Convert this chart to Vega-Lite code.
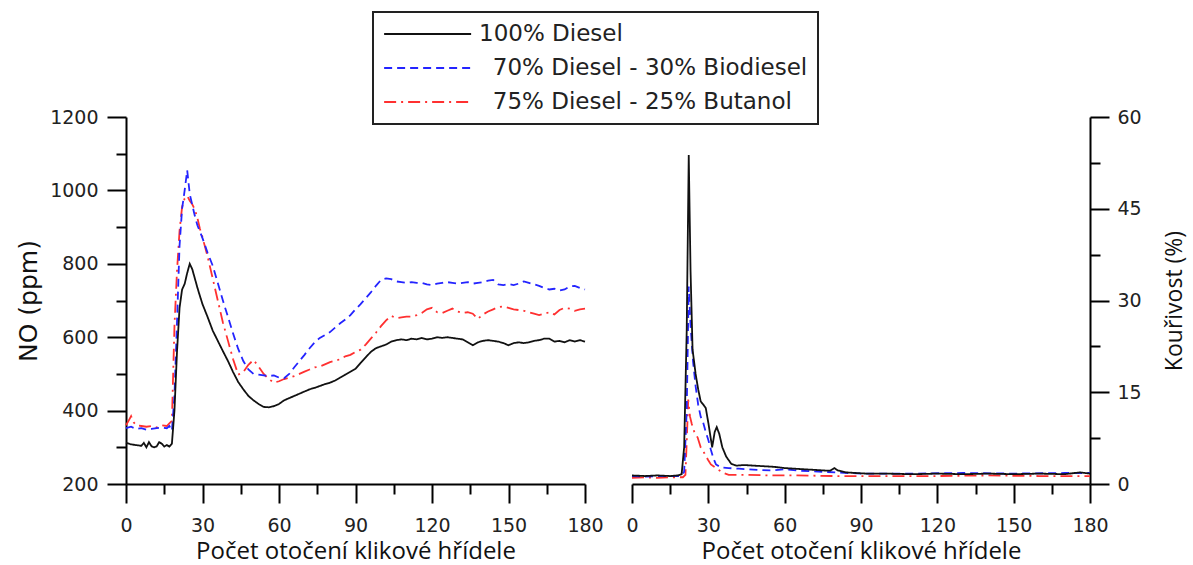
{
  "$schema": "https://vega.github.io/schema/vega-lite/v6.json",
  "background": "white",
  "padding": {"left": 16, "top": 11, "right": 0, "bottom": 0},
  "bounds": "flush",
  "spacing": 47,
  "datasets": {
    "no": [
      {"t":0,"no":360,"fuel":"75% Diesel - 25% Butanol"},{"t":1,"no":372,"fuel":"75% Diesel - 25% Butanol"},{"t":2,"no":385,"fuel":"75% Diesel - 25% Butanol"},{"t":3,"no":368,"fuel":"75% Diesel - 25% Butanol"},{"t":4,"no":360,"fuel":"75% Diesel - 25% Butanol"},{"t":6,"no":358,"fuel":"75% Diesel - 25% Butanol"},{"t":8,"no":356,"fuel":"75% Diesel - 25% Butanol"},{"t":10,"no":358,"fuel":"75% Diesel - 25% Butanol"},{"t":12,"no":354,"fuel":"75% Diesel - 25% Butanol"},{"t":14,"no":360,"fuel":"75% Diesel - 25% Butanol"},{"t":16,"no":358,"fuel":"75% Diesel - 25% Butanol"},{"t":17,"no":365,"fuel":"75% Diesel - 25% Butanol"},{"t":18,"no":372,"fuel":"75% Diesel - 25% Butanol"},{"t":19,"no":630,"fuel":"75% Diesel - 25% Butanol"},{"t":20,"no":780,"fuel":"75% Diesel - 25% Butanol"},{"t":21,"no":890,"fuel":"75% Diesel - 25% Butanol"},{"t":22,"no":955,"fuel":"75% Diesel - 25% Butanol"},{"t":23,"no":978,"fuel":"75% Diesel - 25% Butanol"},{"t":24,"no":985,"fuel":"75% Diesel - 25% Butanol"},{"t":25,"no":972,"fuel":"75% Diesel - 25% Butanol"},{"t":26,"no":962,"fuel":"75% Diesel - 25% Butanol"},{"t":27,"no":948,"fuel":"75% Diesel - 25% Butanol"},{"t":28,"no":925,"fuel":"75% Diesel - 25% Butanol"},{"t":29,"no":895,"fuel":"75% Diesel - 25% Butanol"},{"t":30,"no":872,"fuel":"75% Diesel - 25% Butanol"},{"t":32,"no":820,"fuel":"75% Diesel - 25% Butanol"},{"t":34,"no":760,"fuel":"75% Diesel - 25% Butanol"},{"t":36,"no":700,"fuel":"75% Diesel - 25% Butanol"},{"t":38,"no":640,"fuel":"75% Diesel - 25% Butanol"},{"t":40,"no":590,"fuel":"75% Diesel - 25% Butanol"},{"t":42,"no":540,"fuel":"75% Diesel - 25% Butanol"},{"t":44,"no":498,"fuel":"75% Diesel - 25% Butanol"},{"t":46,"no":505,"fuel":"75% Diesel - 25% Butanol"},{"t":48,"no":525,"fuel":"75% Diesel - 25% Butanol"},{"t":50,"no":538,"fuel":"75% Diesel - 25% Butanol"},{"t":52,"no":520,"fuel":"75% Diesel - 25% Butanol"},{"t":54,"no":500,"fuel":"75% Diesel - 25% Butanol"},{"t":56,"no":486,"fuel":"75% Diesel - 25% Butanol"},{"t":58,"no":476,"fuel":"75% Diesel - 25% Butanol"},{"t":60,"no":480,"fuel":"75% Diesel - 25% Butanol"},{"t":62,"no":486,"fuel":"75% Diesel - 25% Butanol"},{"t":64,"no":490,"fuel":"75% Diesel - 25% Butanol"},{"t":66,"no":494,"fuel":"75% Diesel - 25% Butanol"},{"t":68,"no":500,"fuel":"75% Diesel - 25% Butanol"},{"t":70,"no":506,"fuel":"75% Diesel - 25% Butanol"},{"t":72,"no":512,"fuel":"75% Diesel - 25% Butanol"},{"t":74,"no":518,"fuel":"75% Diesel - 25% Butanol"},{"t":76,"no":520,"fuel":"75% Diesel - 25% Butanol"},{"t":78,"no":526,"fuel":"75% Diesel - 25% Butanol"},{"t":80,"no":532,"fuel":"75% Diesel - 25% Butanol"},{"t":82,"no":536,"fuel":"75% Diesel - 25% Butanol"},{"t":84,"no":540,"fuel":"75% Diesel - 25% Butanol"},{"t":86,"no":548,"fuel":"75% Diesel - 25% Butanol"},{"t":88,"no":552,"fuel":"75% Diesel - 25% Butanol"},{"t":90,"no":560,"fuel":"75% Diesel - 25% Butanol"},{"t":92,"no":566,"fuel":"75% Diesel - 25% Butanol"},{"t":94,"no":580,"fuel":"75% Diesel - 25% Butanol"},{"t":96,"no":596,"fuel":"75% Diesel - 25% Butanol"},{"t":98,"no":612,"fuel":"75% Diesel - 25% Butanol"},{"t":100,"no":630,"fuel":"75% Diesel - 25% Butanol"},{"t":102,"no":646,"fuel":"75% Diesel - 25% Butanol"},{"t":104,"no":658,"fuel":"75% Diesel - 25% Butanol"},{"t":106,"no":652,"fuel":"75% Diesel - 25% Butanol"},{"t":108,"no":654,"fuel":"75% Diesel - 25% Butanol"},{"t":110,"no":656,"fuel":"75% Diesel - 25% Butanol"},{"t":112,"no":656,"fuel":"75% Diesel - 25% Butanol"},{"t":114,"no":660,"fuel":"75% Diesel - 25% Butanol"},{"t":116,"no":666,"fuel":"75% Diesel - 25% Butanol"},{"t":118,"no":676,"fuel":"75% Diesel - 25% Butanol"},{"t":120,"no":680,"fuel":"75% Diesel - 25% Butanol"},{"t":122,"no":668,"fuel":"75% Diesel - 25% Butanol"},{"t":124,"no":666,"fuel":"75% Diesel - 25% Butanol"},{"t":126,"no":672,"fuel":"75% Diesel - 25% Butanol"},{"t":128,"no":678,"fuel":"75% Diesel - 25% Butanol"},{"t":130,"no":670,"fuel":"75% Diesel - 25% Butanol"},{"t":132,"no":666,"fuel":"75% Diesel - 25% Butanol"},{"t":134,"no":668,"fuel":"75% Diesel - 25% Butanol"},{"t":136,"no":664,"fuel":"75% Diesel - 25% Butanol"},{"t":138,"no":650,"fuel":"75% Diesel - 25% Butanol"},{"t":140,"no":662,"fuel":"75% Diesel - 25% Butanol"},{"t":142,"no":670,"fuel":"75% Diesel - 25% Butanol"},{"t":144,"no":676,"fuel":"75% Diesel - 25% Butanol"},{"t":146,"no":682,"fuel":"75% Diesel - 25% Butanol"},{"t":148,"no":684,"fuel":"75% Diesel - 25% Butanol"},{"t":150,"no":680,"fuel":"75% Diesel - 25% Butanol"},{"t":152,"no":676,"fuel":"75% Diesel - 25% Butanol"},{"t":154,"no":674,"fuel":"75% Diesel - 25% Butanol"},{"t":156,"no":672,"fuel":"75% Diesel - 25% Butanol"},{"t":158,"no":668,"fuel":"75% Diesel - 25% Butanol"},{"t":160,"no":664,"fuel":"75% Diesel - 25% Butanol"},{"t":162,"no":660,"fuel":"75% Diesel - 25% Butanol"},{"t":164,"no":664,"fuel":"75% Diesel - 25% Butanol"},{"t":166,"no":668,"fuel":"75% Diesel - 25% Butanol"},{"t":168,"no":662,"fuel":"75% Diesel - 25% Butanol"},{"t":170,"no":674,"fuel":"75% Diesel - 25% Butanol"},{"t":172,"no":680,"fuel":"75% Diesel - 25% Butanol"},{"t":174,"no":678,"fuel":"75% Diesel - 25% Butanol"},{"t":176,"no":672,"fuel":"75% Diesel - 25% Butanol"},{"t":178,"no":676,"fuel":"75% Diesel - 25% Butanol"},{"t":180,"no":678,"fuel":"75% Diesel - 25% Butanol"},

      {"t":0,"no":352,"fuel":"70% Diesel - 30% Biodiesel"},{"t":2,"no":356,"fuel":"70% Diesel - 30% Biodiesel"},{"t":4,"no":350,"fuel":"70% Diesel - 30% Biodiesel"},{"t":6,"no":352,"fuel":"70% Diesel - 30% Biodiesel"},{"t":8,"no":348,"fuel":"70% Diesel - 30% Biodiesel"},{"t":10,"no":350,"fuel":"70% Diesel - 30% Biodiesel"},{"t":12,"no":352,"fuel":"70% Diesel - 30% Biodiesel"},{"t":14,"no":354,"fuel":"70% Diesel - 30% Biodiesel"},{"t":16,"no":352,"fuel":"70% Diesel - 30% Biodiesel"},{"t":17,"no":358,"fuel":"70% Diesel - 30% Biodiesel"},{"t":18,"no":345,"fuel":"70% Diesel - 30% Biodiesel"},{"t":19,"no":440,"fuel":"70% Diesel - 30% Biodiesel"},{"t":20,"no":640,"fuel":"70% Diesel - 30% Biodiesel"},{"t":21,"no":850,"fuel":"70% Diesel - 30% Biodiesel"},{"t":22,"no":950,"fuel":"70% Diesel - 30% Biodiesel"},{"t":23,"no":1000,"fuel":"70% Diesel - 30% Biodiesel"},{"t":24,"no":1055,"fuel":"70% Diesel - 30% Biodiesel"},{"t":25,"no":990,"fuel":"70% Diesel - 30% Biodiesel"},{"t":26,"no":960,"fuel":"70% Diesel - 30% Biodiesel"},{"t":27,"no":930,"fuel":"70% Diesel - 30% Biodiesel"},{"t":28,"no":905,"fuel":"70% Diesel - 30% Biodiesel"},{"t":30,"no":870,"fuel":"70% Diesel - 30% Biodiesel"},{"t":32,"no":830,"fuel":"70% Diesel - 30% Biodiesel"},{"t":34,"no":795,"fuel":"70% Diesel - 30% Biodiesel"},{"t":36,"no":748,"fuel":"70% Diesel - 30% Biodiesel"},{"t":38,"no":700,"fuel":"70% Diesel - 30% Biodiesel"},{"t":40,"no":655,"fuel":"70% Diesel - 30% Biodiesel"},{"t":42,"no":610,"fuel":"70% Diesel - 30% Biodiesel"},{"t":44,"no":568,"fuel":"70% Diesel - 30% Biodiesel"},{"t":46,"no":535,"fuel":"70% Diesel - 30% Biodiesel"},{"t":48,"no":512,"fuel":"70% Diesel - 30% Biodiesel"},{"t":50,"no":500,"fuel":"70% Diesel - 30% Biodiesel"},{"t":52,"no":498,"fuel":"70% Diesel - 30% Biodiesel"},{"t":54,"no":496,"fuel":"70% Diesel - 30% Biodiesel"},{"t":56,"no":494,"fuel":"70% Diesel - 30% Biodiesel"},{"t":58,"no":496,"fuel":"70% Diesel - 30% Biodiesel"},{"t":60,"no":490,"fuel":"70% Diesel - 30% Biodiesel"},{"t":62,"no":488,"fuel":"70% Diesel - 30% Biodiesel"},{"t":64,"no":500,"fuel":"70% Diesel - 30% Biodiesel"},{"t":66,"no":518,"fuel":"70% Diesel - 30% Biodiesel"},{"t":68,"no":535,"fuel":"70% Diesel - 30% Biodiesel"},{"t":70,"no":552,"fuel":"70% Diesel - 30% Biodiesel"},{"t":72,"no":570,"fuel":"70% Diesel - 30% Biodiesel"},{"t":74,"no":586,"fuel":"70% Diesel - 30% Biodiesel"},{"t":76,"no":598,"fuel":"70% Diesel - 30% Biodiesel"},{"t":78,"no":606,"fuel":"70% Diesel - 30% Biodiesel"},{"t":80,"no":614,"fuel":"70% Diesel - 30% Biodiesel"},{"t":82,"no":626,"fuel":"70% Diesel - 30% Biodiesel"},{"t":84,"no":638,"fuel":"70% Diesel - 30% Biodiesel"},{"t":86,"no":648,"fuel":"70% Diesel - 30% Biodiesel"},{"t":88,"no":660,"fuel":"70% Diesel - 30% Biodiesel"},{"t":90,"no":676,"fuel":"70% Diesel - 30% Biodiesel"},{"t":92,"no":690,"fuel":"70% Diesel - 30% Biodiesel"},{"t":94,"no":706,"fuel":"70% Diesel - 30% Biodiesel"},{"t":96,"no":722,"fuel":"70% Diesel - 30% Biodiesel"},{"t":98,"no":740,"fuel":"70% Diesel - 30% Biodiesel"},{"t":100,"no":756,"fuel":"70% Diesel - 30% Biodiesel"},{"t":102,"no":760,"fuel":"70% Diesel - 30% Biodiesel"},{"t":104,"no":758,"fuel":"70% Diesel - 30% Biodiesel"},{"t":106,"no":752,"fuel":"70% Diesel - 30% Biodiesel"},{"t":108,"no":750,"fuel":"70% Diesel - 30% Biodiesel"},{"t":110,"no":748,"fuel":"70% Diesel - 30% Biodiesel"},{"t":112,"no":750,"fuel":"70% Diesel - 30% Biodiesel"},{"t":114,"no":748,"fuel":"70% Diesel - 30% Biodiesel"},{"t":116,"no":748,"fuel":"70% Diesel - 30% Biodiesel"},{"t":118,"no":744,"fuel":"70% Diesel - 30% Biodiesel"},{"t":120,"no":742,"fuel":"70% Diesel - 30% Biodiesel"},{"t":122,"no":746,"fuel":"70% Diesel - 30% Biodiesel"},{"t":124,"no":748,"fuel":"70% Diesel - 30% Biodiesel"},{"t":126,"no":750,"fuel":"70% Diesel - 30% Biodiesel"},{"t":128,"no":748,"fuel":"70% Diesel - 30% Biodiesel"},{"t":130,"no":746,"fuel":"70% Diesel - 30% Biodiesel"},{"t":132,"no":748,"fuel":"70% Diesel - 30% Biodiesel"},{"t":134,"no":750,"fuel":"70% Diesel - 30% Biodiesel"},{"t":136,"no":746,"fuel":"70% Diesel - 30% Biodiesel"},{"t":138,"no":748,"fuel":"70% Diesel - 30% Biodiesel"},{"t":140,"no":750,"fuel":"70% Diesel - 30% Biodiesel"},{"t":142,"no":754,"fuel":"70% Diesel - 30% Biodiesel"},{"t":144,"no":756,"fuel":"70% Diesel - 30% Biodiesel"},{"t":146,"no":744,"fuel":"70% Diesel - 30% Biodiesel"},{"t":148,"no":742,"fuel":"70% Diesel - 30% Biodiesel"},{"t":150,"no":745,"fuel":"70% Diesel - 30% Biodiesel"},{"t":152,"no":742,"fuel":"70% Diesel - 30% Biodiesel"},{"t":154,"no":746,"fuel":"70% Diesel - 30% Biodiesel"},{"t":156,"no":752,"fuel":"70% Diesel - 30% Biodiesel"},{"t":158,"no":748,"fuel":"70% Diesel - 30% Biodiesel"},{"t":160,"no":744,"fuel":"70% Diesel - 30% Biodiesel"},{"t":162,"no":740,"fuel":"70% Diesel - 30% Biodiesel"},{"t":164,"no":734,"fuel":"70% Diesel - 30% Biodiesel"},{"t":166,"no":730,"fuel":"70% Diesel - 30% Biodiesel"},{"t":168,"no":732,"fuel":"70% Diesel - 30% Biodiesel"},{"t":170,"no":727,"fuel":"70% Diesel - 30% Biodiesel"},{"t":172,"no":730,"fuel":"70% Diesel - 30% Biodiesel"},{"t":174,"no":738,"fuel":"70% Diesel - 30% Biodiesel"},{"t":176,"no":740,"fuel":"70% Diesel - 30% Biodiesel"},{"t":178,"no":734,"fuel":"70% Diesel - 30% Biodiesel"},{"t":180,"no":730,"fuel":"70% Diesel - 30% Biodiesel"},

      {"t":0,"no":312,"fuel":"100% Diesel"},{"t":2,"no":308,"fuel":"100% Diesel"},{"t":4,"no":306,"fuel":"100% Diesel"},{"t":6,"no":304,"fuel":"100% Diesel"},{"t":7,"no":312,"fuel":"100% Diesel"},{"t":8,"no":300,"fuel":"100% Diesel"},{"t":9,"no":314,"fuel":"100% Diesel"},{"t":10,"no":303,"fuel":"100% Diesel"},{"t":11,"no":300,"fuel":"100% Diesel"},{"t":12,"no":302,"fuel":"100% Diesel"},{"t":13,"no":314,"fuel":"100% Diesel"},{"t":14,"no":310,"fuel":"100% Diesel"},{"t":15,"no":302,"fuel":"100% Diesel"},{"t":16,"no":306,"fuel":"100% Diesel"},{"t":17,"no":302,"fuel":"100% Diesel"},{"t":18,"no":310,"fuel":"100% Diesel"},{"t":19,"no":400,"fuel":"100% Diesel"},{"t":20,"no":560,"fuel":"100% Diesel"},{"t":21,"no":680,"fuel":"100% Diesel"},{"t":22,"no":730,"fuel":"100% Diesel"},{"t":23,"no":745,"fuel":"100% Diesel"},{"t":24,"no":775,"fuel":"100% Diesel"},{"t":25,"no":800,"fuel":"100% Diesel"},{"t":26,"no":785,"fuel":"100% Diesel"},{"t":27,"no":760,"fuel":"100% Diesel"},{"t":28,"no":735,"fuel":"100% Diesel"},{"t":29,"no":712,"fuel":"100% Diesel"},{"t":30,"no":690,"fuel":"100% Diesel"},{"t":32,"no":655,"fuel":"100% Diesel"},{"t":34,"no":618,"fuel":"100% Diesel"},{"t":36,"no":590,"fuel":"100% Diesel"},{"t":38,"no":562,"fuel":"100% Diesel"},{"t":40,"no":535,"fuel":"100% Diesel"},{"t":42,"no":505,"fuel":"100% Diesel"},{"t":44,"no":478,"fuel":"100% Diesel"},{"t":46,"no":458,"fuel":"100% Diesel"},{"t":48,"no":440,"fuel":"100% Diesel"},{"t":50,"no":428,"fuel":"100% Diesel"},{"t":52,"no":418,"fuel":"100% Diesel"},{"t":54,"no":410,"fuel":"100% Diesel"},{"t":56,"no":409,"fuel":"100% Diesel"},{"t":58,"no":412,"fuel":"100% Diesel"},{"t":60,"no":418,"fuel":"100% Diesel"},{"t":62,"no":428,"fuel":"100% Diesel"},{"t":64,"no":434,"fuel":"100% Diesel"},{"t":66,"no":440,"fuel":"100% Diesel"},{"t":68,"no":446,"fuel":"100% Diesel"},{"t":70,"no":452,"fuel":"100% Diesel"},{"t":72,"no":458,"fuel":"100% Diesel"},{"t":74,"no":462,"fuel":"100% Diesel"},{"t":76,"no":467,"fuel":"100% Diesel"},{"t":78,"no":472,"fuel":"100% Diesel"},{"t":80,"no":476,"fuel":"100% Diesel"},{"t":82,"no":482,"fuel":"100% Diesel"},{"t":84,"no":490,"fuel":"100% Diesel"},{"t":86,"no":498,"fuel":"100% Diesel"},{"t":88,"no":506,"fuel":"100% Diesel"},{"t":90,"no":514,"fuel":"100% Diesel"},{"t":92,"no":530,"fuel":"100% Diesel"},{"t":94,"no":545,"fuel":"100% Diesel"},{"t":96,"no":560,"fuel":"100% Diesel"},{"t":98,"no":570,"fuel":"100% Diesel"},{"t":100,"no":575,"fuel":"100% Diesel"},{"t":102,"no":580,"fuel":"100% Diesel"},{"t":104,"no":588,"fuel":"100% Diesel"},{"t":106,"no":592,"fuel":"100% Diesel"},{"t":108,"no":594,"fuel":"100% Diesel"},{"t":110,"no":592,"fuel":"100% Diesel"},{"t":112,"no":596,"fuel":"100% Diesel"},{"t":114,"no":594,"fuel":"100% Diesel"},{"t":116,"no":598,"fuel":"100% Diesel"},{"t":118,"no":594,"fuel":"100% Diesel"},{"t":120,"no":596,"fuel":"100% Diesel"},{"t":122,"no":600,"fuel":"100% Diesel"},{"t":124,"no":598,"fuel":"100% Diesel"},{"t":126,"no":600,"fuel":"100% Diesel"},{"t":128,"no":598,"fuel":"100% Diesel"},{"t":130,"no":596,"fuel":"100% Diesel"},{"t":132,"no":594,"fuel":"100% Diesel"},{"t":134,"no":586,"fuel":"100% Diesel"},{"t":136,"no":578,"fuel":"100% Diesel"},{"t":138,"no":586,"fuel":"100% Diesel"},{"t":140,"no":590,"fuel":"100% Diesel"},{"t":142,"no":592,"fuel":"100% Diesel"},{"t":144,"no":590,"fuel":"100% Diesel"},{"t":146,"no":588,"fuel":"100% Diesel"},{"t":148,"no":584,"fuel":"100% Diesel"},{"t":150,"no":578,"fuel":"100% Diesel"},{"t":152,"no":584,"fuel":"100% Diesel"},{"t":154,"no":586,"fuel":"100% Diesel"},{"t":156,"no":584,"fuel":"100% Diesel"},{"t":158,"no":586,"fuel":"100% Diesel"},{"t":160,"no":590,"fuel":"100% Diesel"},{"t":162,"no":592,"fuel":"100% Diesel"},{"t":164,"no":596,"fuel":"100% Diesel"},{"t":166,"no":596,"fuel":"100% Diesel"},{"t":168,"no":588,"fuel":"100% Diesel"},{"t":170,"no":590,"fuel":"100% Diesel"},{"t":172,"no":586,"fuel":"100% Diesel"},{"t":174,"no":592,"fuel":"100% Diesel"},{"t":176,"no":588,"fuel":"100% Diesel"},{"t":178,"no":592,"fuel":"100% Diesel"},{"t":180,"no":588,"fuel":"100% Diesel"}
    ],
    "smoke": [
      {"t":0,"k":1.0,"fuel":"75% Diesel - 25% Butanol"},{"t":5,"k":1.1,"fuel":"75% Diesel - 25% Butanol"},{"t":10,"k":1.0,"fuel":"75% Diesel - 25% Butanol"},{"t":15,"k":1.1,"fuel":"75% Diesel - 25% Butanol"},{"t":20,"k":1.1,"fuel":"75% Diesel - 25% Butanol"},{"t":21,"k":1.5,"fuel":"75% Diesel - 25% Butanol"},{"t":21.6,"k":8,"fuel":"75% Diesel - 25% Butanol"},{"t":22.1,"k":13.8,"fuel":"75% Diesel - 25% Butanol"},{"t":22.8,"k":11,"fuel":"75% Diesel - 25% Butanol"},{"t":23.5,"k":9.8,"fuel":"75% Diesel - 25% Butanol"},{"t":24.5,"k":8.5,"fuel":"75% Diesel - 25% Butanol"},{"t":25.8,"k":7.6,"fuel":"75% Diesel - 25% Butanol"},{"t":27,"k":6.0,"fuel":"75% Diesel - 25% Butanol"},{"t":28.5,"k":5.0,"fuel":"75% Diesel - 25% Butanol"},{"t":29.8,"k":4.0,"fuel":"75% Diesel - 25% Butanol"},{"t":31,"k":3.2,"fuel":"75% Diesel - 25% Butanol"},{"t":33.7,"k":2.4,"fuel":"75% Diesel - 25% Butanol"},{"t":36,"k":1.8,"fuel":"75% Diesel - 25% Butanol"},{"t":38,"k":1.5,"fuel":"75% Diesel - 25% Butanol"},{"t":45,"k":1.5,"fuel":"75% Diesel - 25% Butanol"},{"t":55,"k":1.4,"fuel":"75% Diesel - 25% Butanol"},{"t":65,"k":1.4,"fuel":"75% Diesel - 25% Butanol"},{"t":80,"k":1.3,"fuel":"75% Diesel - 25% Butanol"},{"t":100,"k":1.3,"fuel":"75% Diesel - 25% Butanol"},{"t":120,"k":1.3,"fuel":"75% Diesel - 25% Butanol"},{"t":140,"k":1.4,"fuel":"75% Diesel - 25% Butanol"},{"t":160,"k":1.3,"fuel":"75% Diesel - 25% Butanol"},{"t":180,"k":1.3,"fuel":"75% Diesel - 25% Butanol"},

      {"t":0,"k":1.3,"fuel":"70% Diesel - 30% Biodiesel"},{"t":5,"k":1.2,"fuel":"70% Diesel - 30% Biodiesel"},{"t":10,"k":1.3,"fuel":"70% Diesel - 30% Biodiesel"},{"t":15,"k":1.3,"fuel":"70% Diesel - 30% Biodiesel"},{"t":19,"k":1.3,"fuel":"70% Diesel - 30% Biodiesel"},{"t":20.5,"k":2,"fuel":"70% Diesel - 30% Biodiesel"},{"t":21.5,"k":12,"fuel":"70% Diesel - 30% Biodiesel"},{"t":22.3,"k":32.3,"fuel":"70% Diesel - 30% Biodiesel"},{"t":23,"k":26,"fuel":"70% Diesel - 30% Biodiesel"},{"t":24,"k":20,"fuel":"70% Diesel - 30% Biodiesel"},{"t":25,"k":16,"fuel":"70% Diesel - 30% Biodiesel"},{"t":26,"k":13,"fuel":"70% Diesel - 30% Biodiesel"},{"t":27,"k":11,"fuel":"70% Diesel - 30% Biodiesel"},{"t":28,"k":10,"fuel":"70% Diesel - 30% Biodiesel"},{"t":29,"k":8.5,"fuel":"70% Diesel - 30% Biodiesel"},{"t":30,"k":7.2,"fuel":"70% Diesel - 30% Biodiesel"},{"t":31,"k":5.6,"fuel":"70% Diesel - 30% Biodiesel"},{"t":32,"k":4.2,"fuel":"70% Diesel - 30% Biodiesel"},{"t":33,"k":3.2,"fuel":"70% Diesel - 30% Biodiesel"},{"t":35,"k":2.7,"fuel":"70% Diesel - 30% Biodiesel"},{"t":38,"k":2.6,"fuel":"70% Diesel - 30% Biodiesel"},{"t":42,"k":2.5,"fuel":"70% Diesel - 30% Biodiesel"},{"t":46,"k":2.4,"fuel":"70% Diesel - 30% Biodiesel"},{"t":50,"k":2.3,"fuel":"70% Diesel - 30% Biodiesel"},{"t":55,"k":2.2,"fuel":"70% Diesel - 30% Biodiesel"},{"t":60,"k":2.4,"fuel":"70% Diesel - 30% Biodiesel"},{"t":65,"k":2.2,"fuel":"70% Diesel - 30% Biodiesel"},{"t":70,"k":2.1,"fuel":"70% Diesel - 30% Biodiesel"},{"t":75,"k":2.0,"fuel":"70% Diesel - 30% Biodiesel"},{"t":80,"k":1.9,"fuel":"70% Diesel - 30% Biodiesel"},{"t":85,"k":1.8,"fuel":"70% Diesel - 30% Biodiesel"},{"t":90,"k":1.7,"fuel":"70% Diesel - 30% Biodiesel"},{"t":110,"k":1.7,"fuel":"70% Diesel - 30% Biodiesel"},{"t":130,"k":1.8,"fuel":"70% Diesel - 30% Biodiesel"},{"t":150,"k":1.7,"fuel":"70% Diesel - 30% Biodiesel"},{"t":170,"k":1.8,"fuel":"70% Diesel - 30% Biodiesel"},{"t":180,"k":1.8,"fuel":"70% Diesel - 30% Biodiesel"},

      {"t":0,"k":1.4,"fuel":"100% Diesel"},{"t":5,"k":1.3,"fuel":"100% Diesel"},{"t":10,"k":1.4,"fuel":"100% Diesel"},{"t":15,"k":1.3,"fuel":"100% Diesel"},{"t":18,"k":1.4,"fuel":"100% Diesel"},{"t":19.5,"k":1.6,"fuel":"100% Diesel"},{"t":20.5,"k":6,"fuel":"100% Diesel"},{"t":21.5,"k":25,"fuel":"100% Diesel"},{"t":22.3,"k":53.8,"fuel":"100% Diesel"},{"t":23,"k":35,"fuel":"100% Diesel"},{"t":23.8,"k":22,"fuel":"100% Diesel"},{"t":25,"k":18,"fuel":"100% Diesel"},{"t":26,"k":15.5,"fuel":"100% Diesel"},{"t":27,"k":13.5,"fuel":"100% Diesel"},{"t":28,"k":13,"fuel":"100% Diesel"},{"t":29,"k":12.4,"fuel":"100% Diesel"},{"t":30,"k":10,"fuel":"100% Diesel"},{"t":31.5,"k":6,"fuel":"100% Diesel"},{"t":32.5,"k":8.5,"fuel":"100% Diesel"},{"t":33.3,"k":9.3,"fuel":"100% Diesel"},{"t":34.3,"k":8.2,"fuel":"100% Diesel"},{"t":35.5,"k":6,"fuel":"100% Diesel"},{"t":37,"k":4.5,"fuel":"100% Diesel"},{"t":39,"k":3.3,"fuel":"100% Diesel"},{"t":41,"k":3.0,"fuel":"100% Diesel"},{"t":44,"k":3.1,"fuel":"100% Diesel"},{"t":48,"k":3.0,"fuel":"100% Diesel"},{"t":52,"k":2.9,"fuel":"100% Diesel"},{"t":56,"k":2.8,"fuel":"100% Diesel"},{"t":60,"k":2.6,"fuel":"100% Diesel"},{"t":64,"k":2.5,"fuel":"100% Diesel"},{"t":68,"k":2.4,"fuel":"100% Diesel"},{"t":72,"k":2.3,"fuel":"100% Diesel"},{"t":76,"k":2.2,"fuel":"100% Diesel"},{"t":78,"k":2.2,"fuel":"100% Diesel"},{"t":79.5,"k":2.6,"fuel":"100% Diesel"},{"t":81,"k":2.2,"fuel":"100% Diesel"},{"t":84,"k":1.9,"fuel":"100% Diesel"},{"t":88,"k":1.8,"fuel":"100% Diesel"},{"t":92,"k":1.7,"fuel":"100% Diesel"},{"t":100,"k":1.7,"fuel":"100% Diesel"},{"t":110,"k":1.6,"fuel":"100% Diesel"},{"t":120,"k":1.7,"fuel":"100% Diesel"},{"t":130,"k":1.6,"fuel":"100% Diesel"},{"t":140,"k":1.7,"fuel":"100% Diesel"},{"t":150,"k":1.6,"fuel":"100% Diesel"},{"t":160,"k":1.7,"fuel":"100% Diesel"},{"t":170,"k":1.6,"fuel":"100% Diesel"},{"t":176,"k":1.9,"fuel":"100% Diesel"},{"t":180,"k":1.7,"fuel":"100% Diesel"}
    ]
  },
  "hconcat": [
    {
      "width": 459,
      "height": 367,
      "data": {"name": "no"},
      "mark": {"type": "line", "strokeWidth": 1.8},
      "encoding": {
        "x": {
          "field": "t", "type": "quantitative",
          "scale": {"domain": [0, 180], "nice": false},
          "axis": {
            "title": "Počet otočení klikové hřídele",
            "values": [0, 15, 30, 45, 60, 75, 90, 105, 120, 135, 150, 165, 180],
            "labelExpr": "datum.value % 30 === 0 ? datum.label : ''",
            "tickSize": {"condition": {"test": "datum.value % 30 === 0", "value": 19}, "value": 10},
            "labelPadding": 13,
            "titlePadding": 4
          }
        },
        "y": {
          "field": "no", "type": "quantitative",
          "scale": {"domain": [200, 1200], "nice": false},
          "axis": {
            "title": "NO (ppm)",
            "titleFont": "DejaVu Sans",
            "titleFontSize": 25,
            "format": "d",
            "values": [200, 300, 400, 500, 600, 700, 800, 900, 1000, 1100, 1200],
            "labelExpr": "datum.value % 200 === 0 ? datum.label : ''",
            "tickSize": {"condition": {"test": "datum.value % 200 === 0", "value": 19}, "value": 10},
            "labelPadding": 9,
            "titlePadding": 8
          }
        },
        "color": {
          "field": "fuel", "type": "nominal",
          "scale": {"domain": ["100% Diesel", "70% Diesel - 30% Biodiesel", "75% Diesel - 25% Butanol"], "range": ["#111111", "#2424ff", "#ff3030"]},
          "legend": {
            "title": null, "orient": "none", "legendX": 247, "legendY": -105,
            "labelExpr": "datum.value == '100% Diesel' ? datum.label : '\u200b\u2002\u200a' + datum.label"
          }
        },
        "strokeDash": {
          "field": "fuel", "type": "nominal",
          "scale": {"domain": ["100% Diesel", "70% Diesel - 30% Biodiesel", "75% Diesel - 25% Butanol"], "range": [[1, 0], [8, 5], [12, 5, 2, 5]]},
          "legend": {
            "title": null, "orient": "none", "legendX": 247, "legendY": -105,
            "labelExpr": "datum.value == '100% Diesel' ? datum.label : '\u200b\u2002\u200a' + datum.label"
          }
        }
      }
    },
    {
      "width": 458,
      "height": 367,
      "data": {"name": "smoke"},
      "mark": {"type": "line", "strokeWidth": 1.8},
      "encoding": {
        "x": {
          "field": "t", "type": "quantitative",
          "scale": {"domain": [0, 180], "nice": false},
          "axis": {
            "title": "Počet otočení klikové hřídele",
            "values": [0, 15, 30, 45, 60, 75, 90, 105, 120, 135, 150, 165, 180],
            "labelExpr": "datum.value % 30 === 0 ? datum.label : ''",
            "tickSize": {"condition": {"test": "datum.value % 30 === 0", "value": 19}, "value": 10},
            "labelPadding": 13,
            "titlePadding": 4
          }
        },
        "y": {
          "field": "k", "type": "quantitative",
          "scale": {"domain": [0, 60], "nice": false},
          "axis": {
            "orient": "right",
            "title": "Kouřivost (%)",
            "titleAngle": 270,
            "titleFontSize": 23,
            "format": "d",
            "values": [0, 7.5, 15, 22.5, 30, 37.5, 45, 52.5, 60],
            "labelExpr": "datum.value % 15 === 0 ? datum.label : ''",
            "tickSize": {"condition": {"test": "datum.value % 15 === 0", "value": 19}, "value": 10},
            "labelPadding": 8,
            "titlePadding": 45
          }
        },
        "color": {
          "field": "fuel", "type": "nominal",
          "scale": {"domain": ["100% Diesel", "70% Diesel - 30% Biodiesel", "75% Diesel - 25% Butanol"], "range": ["#111111", "#2424ff", "#ff3030"]},
          "legend": {
            "title": null, "orient": "none", "legendX": 247, "legendY": -105,
            "labelExpr": "datum.value == '100% Diesel' ? datum.label : '\u200b\u2002\u200a' + datum.label"
          }
        },
        "strokeDash": {
          "field": "fuel", "type": "nominal",
          "scale": {"domain": ["100% Diesel", "70% Diesel - 30% Biodiesel", "75% Diesel - 25% Butanol"], "range": [[1, 0], [8, 5], [12, 5, 2, 5]]},
          "legend": {
            "title": null, "orient": "none", "legendX": 247, "legendY": -105,
            "labelExpr": "datum.value == '100% Diesel' ? datum.label : '\u200b\u2002\u200a' + datum.label"
          }
        }
      }
    }
  ],
  "config": {
    "view": {"stroke": null},
    "axis": {
      "grid": false,
      "domainColor": "#000000",
      "domainWidth": 2,
      "tickColor": "#000000",
      "tickWidth": 2,
      "labelFont": "DejaVu Sans",
      "labelFontSize": 19,
      "labelColor": "#222222",
      "labelFlush": false,
      "labelOverlap": false,
      "titleFont": "Open Sans",
      "titleFontSize": 24,
      "titleFontWeight": "normal",
      "titleColor": "#111111"
    },
    "legend": {
      "symbolType": "M-1,0H7",
      "symbolSize": 473,
      "symbolStrokeWidth": 2,
      "labelFont": "DejaVu Sans",
      "labelFontSize": 23,
      "labelColor": "#222222",
      "labelOffset": 72,
      "labelLimit": 0,
      "rowPadding": 10,
      "padding": 10,
      "strokeColor": "#222222",
      "strokeWidth": 2
    }
  }
}
